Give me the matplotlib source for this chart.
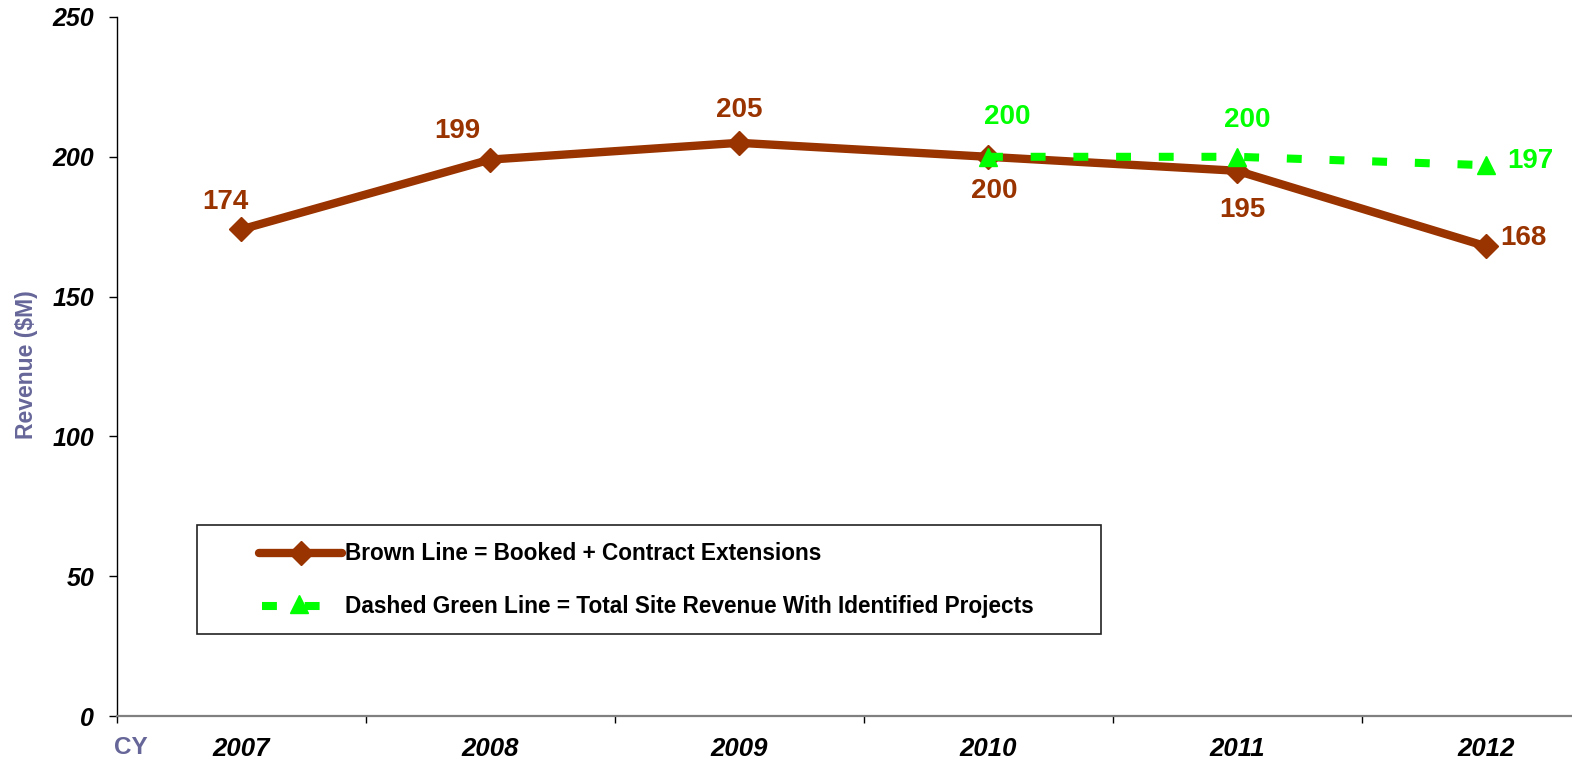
import numpy as np
import matplotlib
matplotlib.use("Agg")
import matplotlib.pyplot as plt
from matplotlib.lines import Line2D
from matplotlib.patches import Rectangle

# ---- data ----
years = ["2007", "2008", "2009", "2010", "2011", "2012"]
booked = [174, 199, 205, 200, 195, 168]
total_site = [np.nan, np.nan, np.nan, 200, 200, 197]
y_ticks = [0, 50, 100, 150, 200, 250]
legend_labels = ["Brown Line = Booked + Contract Extensions",
                 "Dashed Green Line = Total Site Revenue With Identified Projects"]

# label offsets in pixels (dx, dy) – dy positive = up
booked_offsets = [(-16, 27), (-33, 29), (0, 33), (6, -34), (5, -39), (37, 8)]
site_offsets = [None, None, None, (19, 40), (10, 37), (44, 4)]

BROWN = "#993300"
GREEN = "#00FF00"
SLATE = "#666699"

plt.rcParams['font.family'] = ['Liberation Sans', 'DejaVu Sans']

W, H = 1572, 763
fig = plt.figure(figsize=(W / 100, H / 100), dpi=100)

def fx(px):
    return px / W

def fy(py):
    return 1 - py / H

ax_left, ax_right, ax_top, ax_bot = 116.5, 1610.5, 17, 716
ax = fig.add_axes([fx(ax_left), fy(ax_bot), fx(ax_right - ax_left), (ax_bot - ax_top) / H])

x = np.arange(len(years))
ax.plot(x, booked, color=BROWN, lw=6, marker='D', ms=12.5, mfc=BROWN, mec=BROWN,
        mew=1, zorder=3, solid_joinstyle='round', clip_on=False)
ax.plot(x, total_site, color=GREEN, lw=5.8, linestyle=(0, (1.85, 3.45)), marker='^',
        ms=13, mfc=GREEN, mec=GREEN, mew=1, zorder=4, clip_on=False)

ax.set_xlim(-0.5, len(years) - 0.5)
ax.set_ylim(0, 250)

lab_font = dict(fontsize=20, fontweight='bold', ha='center', va='center')
for xi, v, off in zip(x, booked, booked_offsets):
    ax.annotate(f"{v}", (xi, v), xytext=(off[0] * 0.72, off[1] * 0.72),
                textcoords='offset points', color=BROWN, **lab_font)
for xi, v, off in zip(x, total_site, site_offsets):
    if off is None or np.isnan(v):
        continue
    ax.annotate(f"{int(v)}", (xi, v), xytext=(off[0] * 0.72, off[1] * 0.72),
                textcoords='offset points', color=GREEN, **lab_font)

# spines
for s in ['top', 'right']:
    ax.spines[s].set_visible(False)
ax.spines['left'].set_color('black')
ax.spines['left'].set_linewidth(1.0)
ax.spines['bottom'].set_color('#808080')
ax.spines['bottom'].set_linewidth(1.6)

# y ticks
ax.set_yticks(y_ticks)
ax.set_yticklabels([str(t) for t in y_ticks], fontsize=18, fontweight='bold',
                   fontstyle='italic')
ax.tick_params(axis='y', direction='out', length=6, width=1, color='black', pad=10)

# x ticks: labels at centres, tick marks at boundaries
ax.set_xticks(x)
ax.set_xticklabels(years, fontsize=18.5, fontweight='bold', fontstyle='italic')
ax.tick_params(axis='x', which='major', length=0, pad=15)
ax.set_xticks(np.arange(len(years) + 1) - 0.5, minor=True)
ax.tick_params(axis='x', which='minor', direction='out', length=5, width=1, color='black')

# axis titles
fig.text(fx(27), fy(365), "Revenue ($M)", rotation=90, ha='center', va='center',
         fontsize=16.5, fontweight='bold', color=SLATE)
fig.text(fx(131), fy(748), "CY", ha='center', va='center',
         fontsize=17.5, fontweight='bold', color=SLATE)

# legend (manual box)
lx0, ly0, lx1, ly1 = 197, 525, 1101, 634
fig.add_artist(Rectangle((fx(lx0), fy(ly1)), fx(lx1 - lx0), (ly1 - ly0) / H,
                         transform=fig.transFigure, fill=True, facecolor='white',
                         edgecolor='#222222', lw=1.2, zorder=5))
r1, r2 = 553, 606
fig.add_artist(Line2D([fx(259), fx(342)], [fy(r1), fy(r1)], transform=fig.transFigure,
                      color=BROWN, lw=6, solid_capstyle='round', zorder=6))
fig.add_artist(Line2D([fx(301)], [fy(r1)], transform=fig.transFigure, color=BROWN,
                      marker='D', ms=12, mfc=BROWN, mec=BROWN, lw=0, zorder=7))
fig.add_artist(Line2D([fx(262), fx(320)], [fy(r2), fy(r2)], transform=fig.transFigure,
                      color=GREEN, lw=5.8, linestyle=(0, (1.85, 3.45)), zorder=6))
fig.add_artist(Line2D([fx(299)], [fy(r2 - 2)], transform=fig.transFigure, color=GREEN,
                      marker='^', ms=13, mfc=GREEN, mec=GREEN, lw=0, zorder=7))
for ry, lab in zip([r1, r2], legend_labels):
    fig.text(fx(345), fy(ry), lab, ha='left', va='center', fontsize=16.3,
             fontweight='bold', color='black', zorder=8)

fig.savefig("out.png", dpi=100)
